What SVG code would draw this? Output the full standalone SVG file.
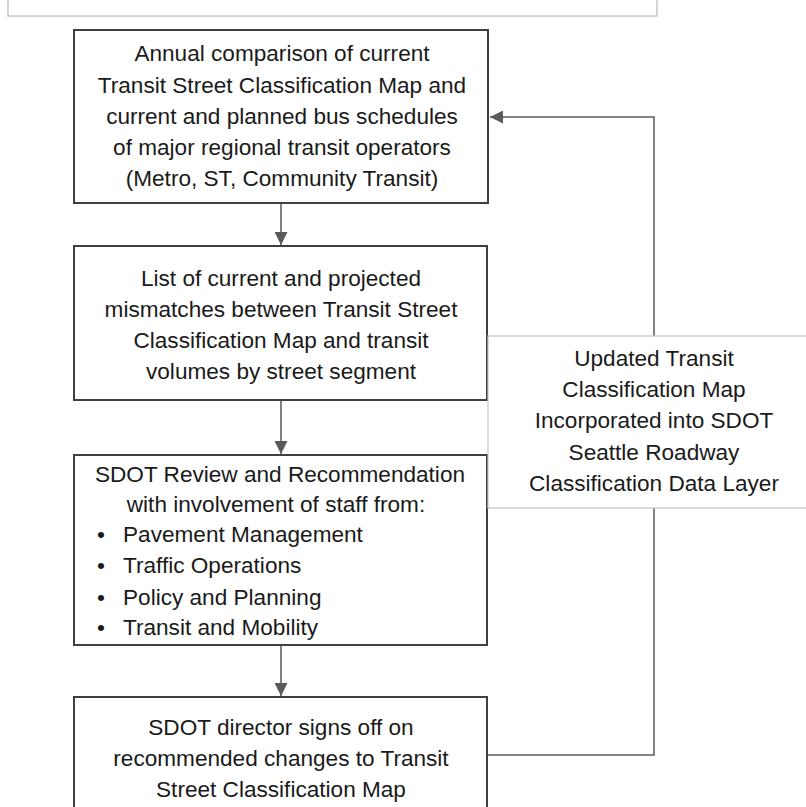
<svg xmlns="http://www.w3.org/2000/svg" width="806" height="807" viewBox="0 0 806 807">
<style>
.box{fill:#ffffff;stroke:#404040;stroke-width:2}
.side{fill:#ffffff;stroke:#c4c4c4;stroke-width:1.2}
.t{font-family:"Liberation Sans",Arial,sans-serif;font-size:22.6px;fill:#1a1a1a}
.c{text-anchor:middle}
.conn{fill:none;stroke:#5a5a5a;stroke-width:1.5}
</style>
<defs>
<marker id="ah" viewBox="0 0 13 13" refX="13" refY="6.5" markerWidth="13" markerHeight="13" markerUnits="userSpaceOnUse" orient="auto">
<path d="M0,0 L13,6.5 L0,13 Z" fill="#5a5a5a"/>
</marker>
</defs>
<rect x="8" y="-4" width="649" height="20" fill="#ffffff" stroke="#c8c8c8" stroke-width="1.5"/>
<g id="connectors">
<line class="conn" x1="281" y1="204" x2="281" y2="245" marker-end="url(#ah)"/>
<line class="conn" x1="281" y1="401" x2="281" y2="454" marker-end="url(#ah)"/>
<line class="conn" x1="281" y1="646" x2="281" y2="696" marker-end="url(#ah)"/>
<polyline class="conn" points="488,755 654,755 654,117 490,117" marker-end="url(#ah)"/>
</g>
<g id="n1">
<rect class="box" x="74" y="30" width="414" height="173"/>
<text class="t c" x="282" y="61">Annual comparison of current</text>
<text class="t c" x="282" y="93">Transit Street Classification Map and</text>
<text class="t c" x="282" y="124">current and planned bus schedules</text>
<text class="t c" x="282" y="155">of major regional transit operators</text>
<text class="t c" x="282" y="186">(Metro, ST, Community Transit)</text>
</g>
<g id="n2">
<rect class="box" x="74" y="246" width="413" height="154"/>
<text class="t c" x="281" y="286">List of current and projected</text>
<text class="t c" x="281" y="317">mismatches between Transit Street</text>
<text class="t c" x="281" y="348">Classification Map and transit</text>
<text class="t c" x="281" y="379">volumes by street segment</text>
</g>
<g id="n3">
<rect class="box" x="74" y="455" width="413" height="190"/>
<text class="t c" x="280" y="482">SDOT Review and Recommendation</text>
<text class="t c" x="276" y="512">with involvement of staff from:</text>
<text class="t" x="97" y="542">•</text><text class="t" x="123" y="542">Pavement Management</text>
<text class="t" x="97" y="573">•</text><text class="t" x="123" y="573">Traffic Operations</text>
<text class="t" x="97" y="605">•</text><text class="t" x="123" y="605">Policy and Planning</text>
<text class="t" x="97" y="635">•</text><text class="t" x="123" y="635">Transit and Mobility</text>
</g>
<g id="n4">
<rect class="box" x="74" y="697" width="413" height="130"/>
<text class="t c" x="281" y="735">SDOT director signs off on</text>
<text class="t c" x="281" y="766">recommended changes to Transit</text>
<text class="t c" x="281" y="797">Street Classification Map</text>
</g>
<g id="n5">
<rect class="side" x="488" y="336" width="330" height="172"/>
<text class="t c" x="654" y="366">Updated Transit</text>
<text class="t c" x="654" y="397">Classification Map</text>
<text class="t c" x="654" y="428">Incorporated into SDOT</text>
<text class="t c" x="654" y="460">Seattle Roadway</text>
<text class="t c" x="654" y="491">Classification Data Layer</text>
</g>
</svg>
